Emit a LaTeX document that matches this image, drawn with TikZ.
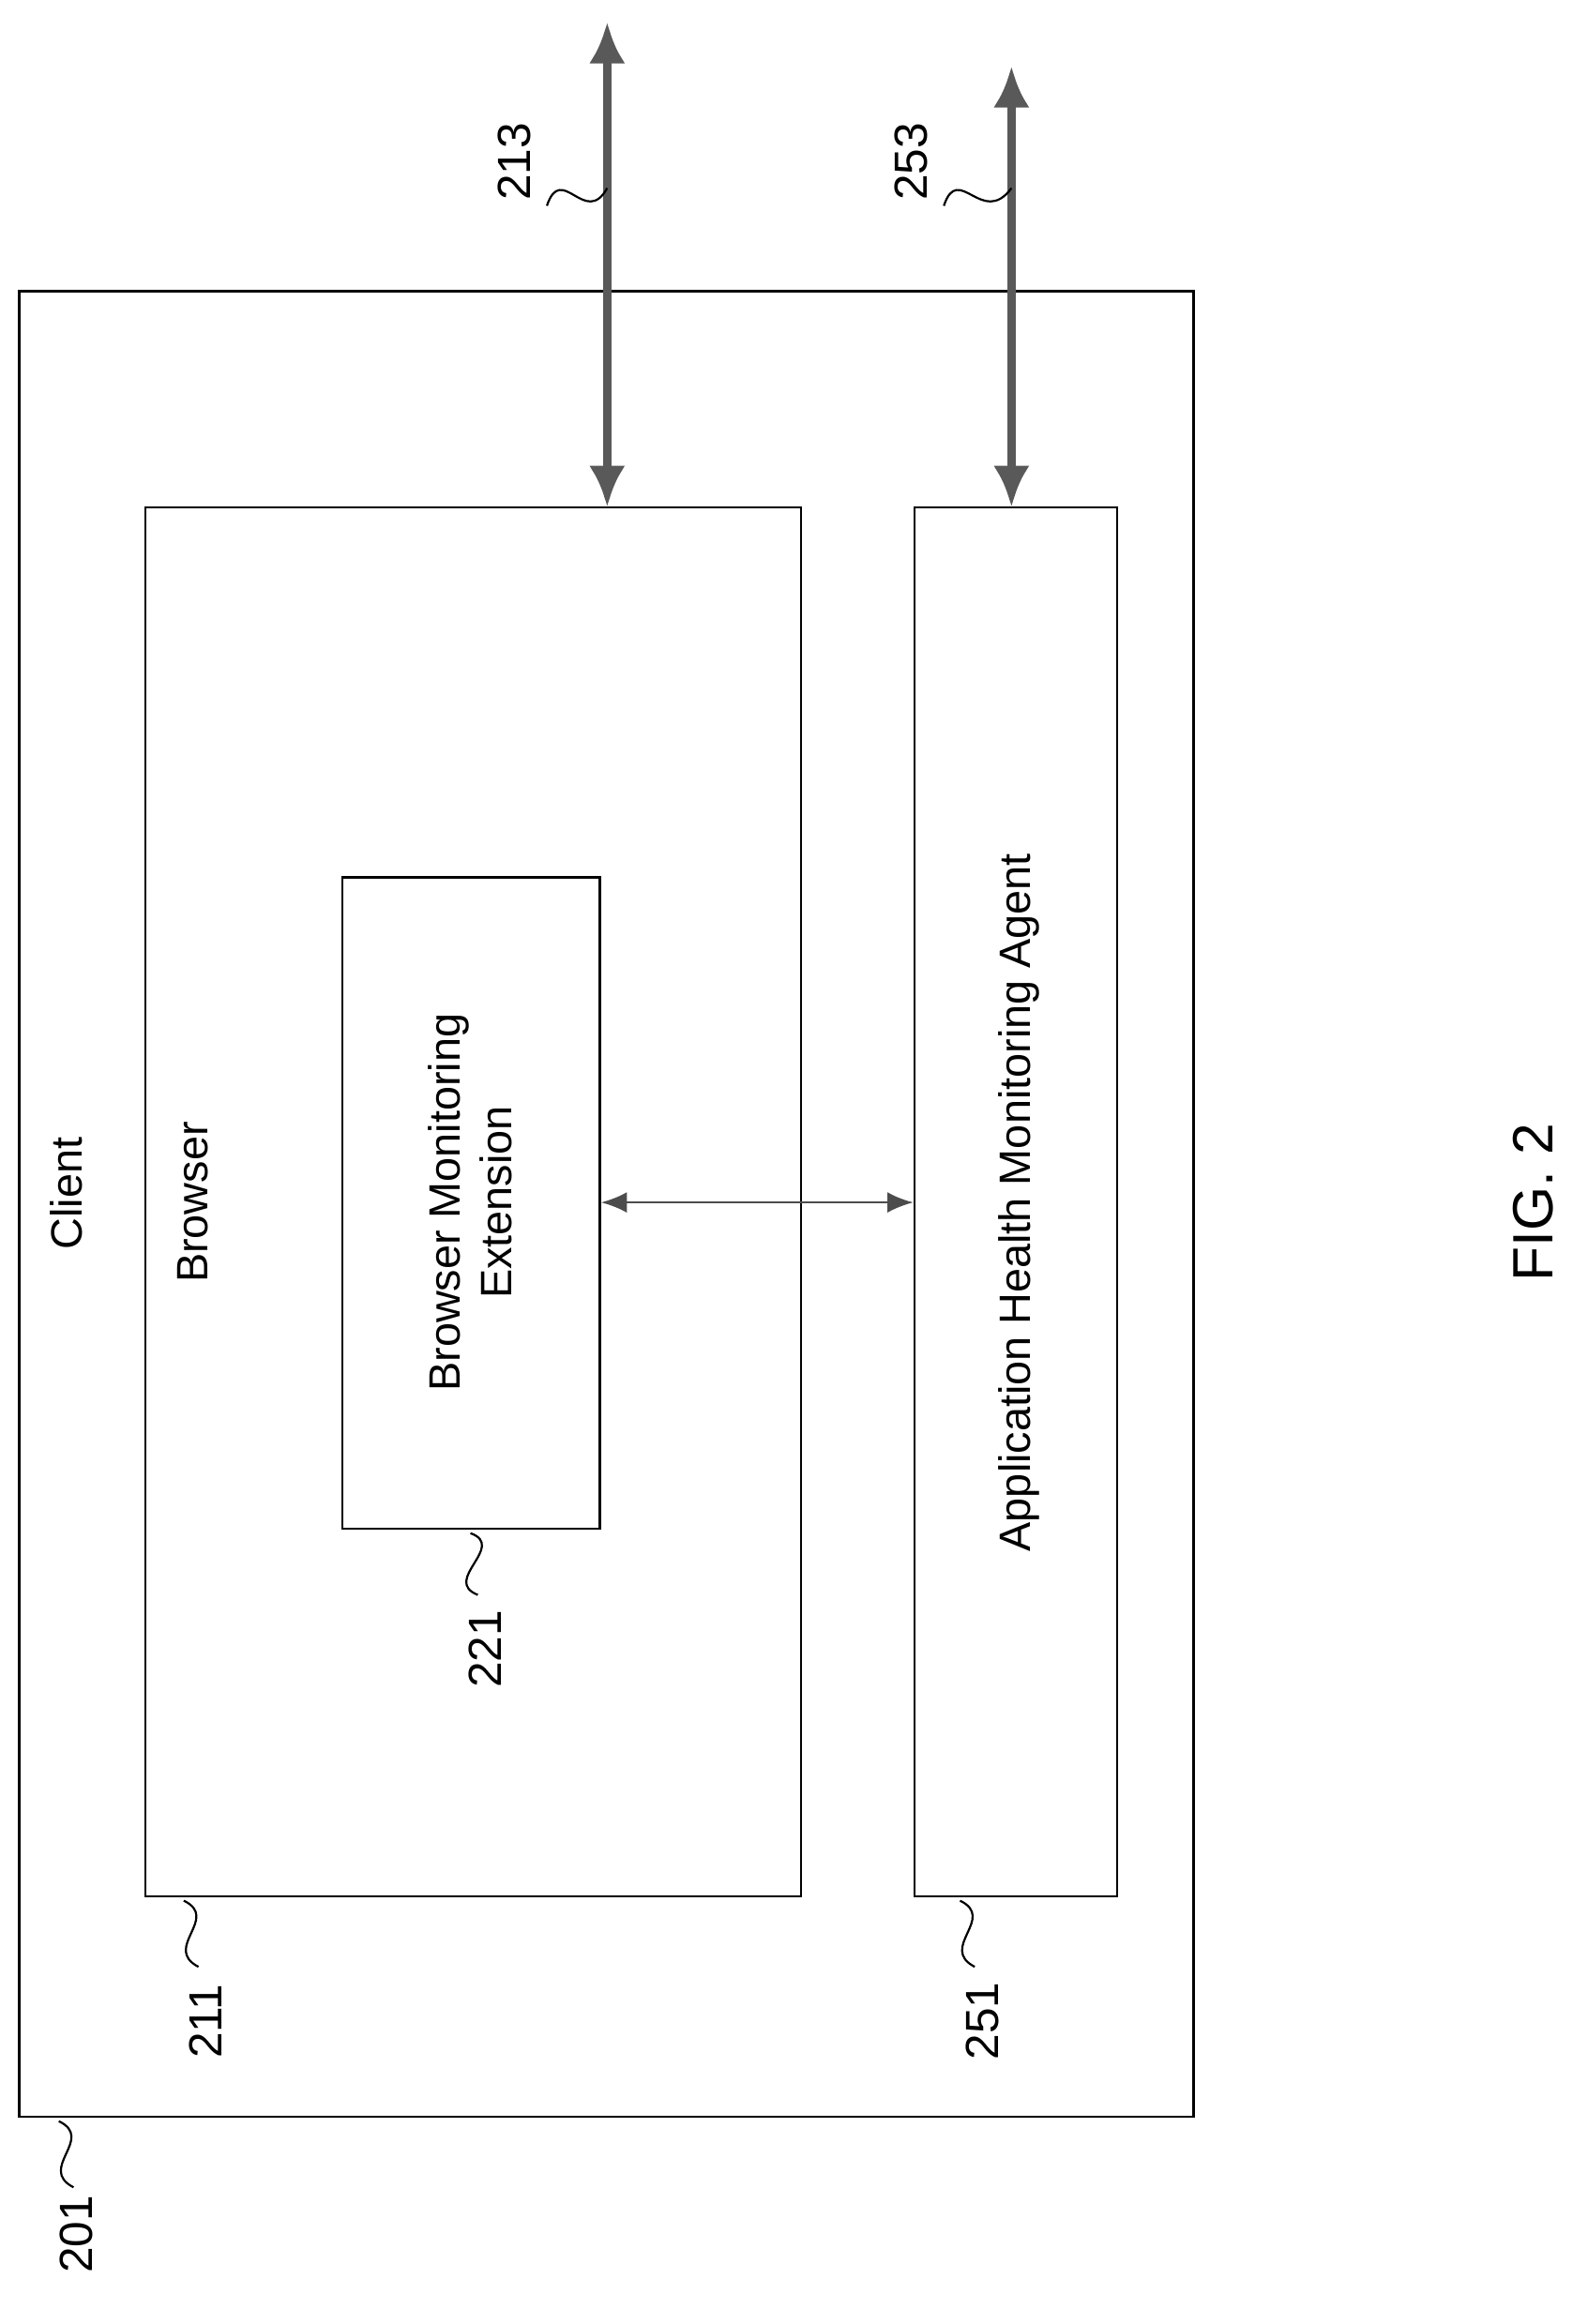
\documentclass[tikz,border=0pt]{standalone}
\usepackage{fontspec}
\setmainfont{Liberation Sans}
\usetikzlibrary{arrows.meta, positioning, fit}
\tikzset{
  box/.style={draw, line width=0.9pt, inner sep=0pt},
  lbl/.style={rotate=90, font=\fontsize{17}{20}\selectfont},
  ref/.style={rotate=90, font=\fontsize{18}{21}\selectfont},
  squig/.style={line width=0.8pt},
  bus/.style={draw=black!65, line width=3.2pt, {Latex[length=16pt,width=14pt]}-{Latex[length=16pt,width=14pt]}},
  link/.style={draw=black!70, line width=1pt, {Latex[length=10pt,width=8pt]}-{Latex[length=10pt,width=8pt]}}
}
\begin{document}
\begin{tikzpicture}[x=0.02cm,y=-0.02cm]
    \useasboundingbox (0,0) rectangle (1080,1581);

    % boxes
    \coordinate (c1) at (13,198);  \coordinate (c2) at (812,1440);
    \coordinate (b1) at (99,345);  \coordinate (b2) at (545,1290);
    \coordinate (e1) at (233,597); \coordinate (e2) at (408,1040);
    \coordinate (a1) at (622,345); \coordinate (a2) at (760,1290);
    \node[box, fit=(c1)(c2)] (client) {};
    \node[box, fit=(b1)(b2)] (browser) {};
    \node[box, fit=(e1)(e2)] (ext) {};
    \node[box, fit=(a1)(a2)] (agent) {};

    % texts
    \node[lbl] (tclient) at (45,812) {Client};
    \node[lbl] (tbrowser) at (131,818) {Browser};
    \node[lbl, align=center] (text) at (320,818) {Browser Monitoring\\Extension};
    \node[lbl] (tagent) at (693,818) {Application Health Monitoring Agent};
    \node[rotate=90, font=\fontsize{22}{26}\selectfont] (fig) at (1043,818) {FIG. 2};

    % connectors
    \coordinate (top1) at (413,15);
    \coordinate (top2) at (688,45);
    \draw[bus] (top1) -- (413,345);
    \draw[bus] (top2) -- (688,345);
    \draw[link] (ext.east |- 0,818) -- (agent.west |- 0,818);

    % reference numerals
    \node[ref] (n213) at (350,110) {213};
    \draw[squig] (372,140) .. controls (382,110) and (398,155) .. (413,128);
    \node[ref] (n253) at (620,110) {253};
    \draw[squig] (642,140) .. controls (652,110) and (668,155) .. (688,128);
    \node[ref] (n221) at (330,1122) {221};
    \draw[squig] (320,1043) .. controls (345,1052) and (300,1075) .. (325,1085);
    \node[ref] (n211) at (140,1375) {211};
    \draw[squig] (125,1293) .. controls (150,1305) and (110,1325) .. (135,1338);
    \node[ref] (n251) at (668,1375) {251};
    \draw[squig] (653,1293) .. controls (678,1305) and (638,1325) .. (663,1338);
    \node[ref] (n201) at (52,1520) {201};
    \draw[squig] (40,1443) .. controls (65,1455) and (25,1475) .. (50,1488);
\end{tikzpicture}
\end{document}
